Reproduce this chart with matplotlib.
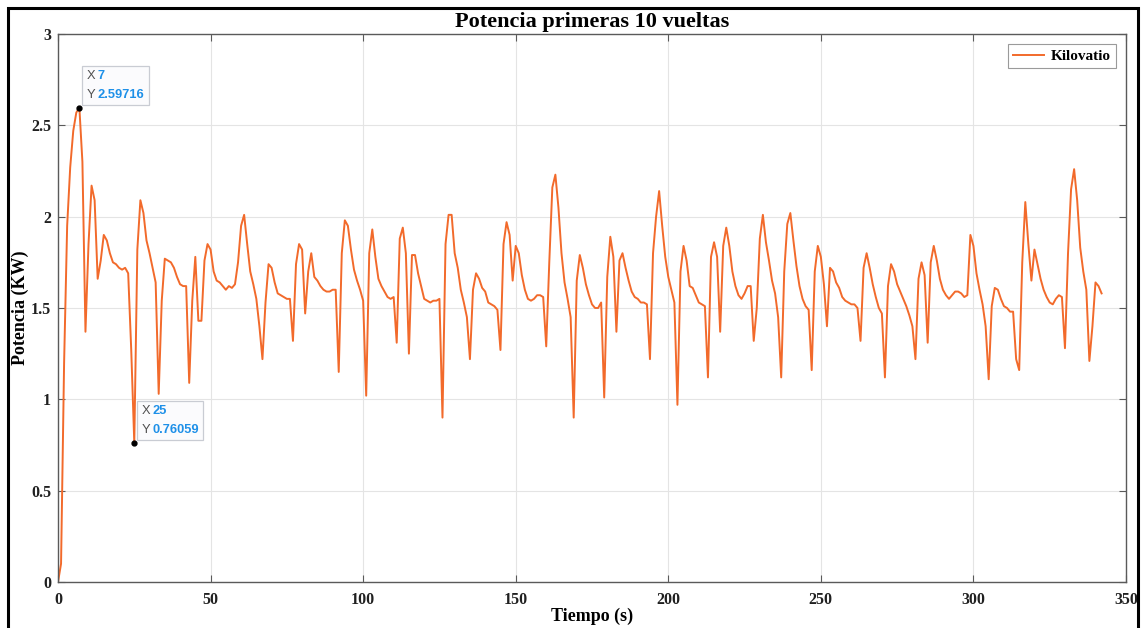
import numpy as np
import matplotlib.pyplot as plt
from matplotlib.patches import Rectangle
from matplotlib.offsetbox import TextArea, HPacker, VPacker, AnnotationBbox
from matplotlib.ticker import FuncFormatter

# potencia (kW) leida cada segundo, t = 0 .. 342 s
potencia = [
    0.00, 0.10, 1.20, 1.95, 2.27, 2.47, 2.57, 2.59716, 2.30, 1.37,   # 0
    1.85, 2.17, 2.09, 1.66, 1.76, 1.90, 1.87, 1.80, 1.75, 1.74,      # 10
    1.72, 1.71, 1.72, 1.69, 1.27, 0.76059, 1.82, 2.09, 2.02, 1.87,   # 20
    1.80, 1.72, 1.64, 1.03, 1.54, 1.77, 1.76, 1.75, 1.72, 1.67,      # 30
    1.63, 1.62, 1.62, 1.09, 1.54, 1.78, 1.43, 1.43, 1.76, 1.85,      # 40
    1.82, 1.70, 1.65, 1.64, 1.62, 1.60, 1.62, 1.61, 1.63, 1.75,      # 50
    1.95, 2.01, 1.85, 1.70, 1.63, 1.55, 1.40, 1.22, 1.53, 1.74,      # 60
    1.72, 1.64, 1.58, 1.57, 1.56, 1.55, 1.55, 1.32, 1.74, 1.85,      # 70
    1.82, 1.47, 1.70, 1.80, 1.67, 1.65, 1.62, 1.60, 1.59, 1.59,      # 80
    1.60, 1.60, 1.15, 1.80, 1.98, 1.95, 1.82, 1.71, 1.65, 1.60,      # 90
    1.54, 1.02, 1.80, 1.93, 1.78, 1.66, 1.62, 1.59, 1.56, 1.55,      # 100
    1.56, 1.31, 1.88, 1.94, 1.80, 1.25, 1.79, 1.79, 1.69, 1.62,      # 110
    1.55, 1.54, 1.53, 1.54, 1.54, 1.55, 0.90, 1.85, 2.01, 2.01,      # 120
    1.80, 1.72, 1.60, 1.53, 1.45, 1.22, 1.60, 1.69, 1.66, 1.61,      # 130
    1.59, 1.53, 1.52, 1.51, 1.49, 1.27, 1.85, 1.97, 1.90, 1.65,      # 140
    1.84, 1.80, 1.68, 1.60, 1.55, 1.54, 1.55, 1.57, 1.57, 1.56,      # 150
    1.29, 1.75, 2.16, 2.23, 2.05, 1.80, 1.64, 1.55, 1.45, 0.90,      # 160
    1.65, 1.79, 1.72, 1.63, 1.57, 1.52, 1.50, 1.50, 1.53, 1.01,      # 170
    1.67, 1.89, 1.78, 1.37, 1.76, 1.80, 1.72, 1.65, 1.59, 1.56,      # 180
    1.55, 1.53, 1.53, 1.52, 1.22, 1.80, 2.00, 2.14, 1.95, 1.78,      # 190
    1.67, 1.60, 1.53, 0.97, 1.70, 1.84, 1.76, 1.62, 1.61, 1.57,      # 200
    1.53, 1.52, 1.51, 1.12, 1.78, 1.86, 1.78, 1.37, 1.84, 1.94,      # 210
    1.84, 1.70, 1.62, 1.57, 1.55, 1.58, 1.62, 1.62, 1.32, 1.50,      # 220
    1.88, 2.01, 1.86, 1.76, 1.65, 1.58, 1.45, 1.12, 1.70, 1.96,      # 230
    2.02, 1.87, 1.73, 1.62, 1.55, 1.51, 1.49, 1.16, 1.70, 1.84,      # 240
    1.78, 1.63, 1.40, 1.72, 1.70, 1.64, 1.61, 1.56, 1.54, 1.53,      # 250
    1.52, 1.52, 1.50, 1.32, 1.72, 1.80, 1.72, 1.63, 1.56, 1.50,      # 260
    1.47, 1.12, 1.62, 1.74, 1.70, 1.63, 1.59, 1.55, 1.51, 1.46,      # 270
    1.40, 1.22, 1.66, 1.75, 1.68, 1.31, 1.75, 1.84, 1.76, 1.66,      # 280
    1.60, 1.57, 1.55, 1.57, 1.59, 1.59, 1.58, 1.56, 1.57, 1.90,      # 290
    1.84, 1.69, 1.60, 1.52, 1.40, 1.11, 1.51, 1.61, 1.60, 1.55,      # 300
    1.51, 1.50, 1.48, 1.48, 1.22, 1.16, 1.75, 2.08, 1.85, 1.65,      # 310
    1.82, 1.74, 1.66, 1.60, 1.56, 1.53, 1.52, 1.55, 1.57, 1.56,      # 320
    1.28, 1.80, 2.15, 2.26, 2.09, 1.83, 1.70, 1.60, 1.21, 1.40,      # 330
    1.64, 1.62, 1.58,                                                # 340
]
tiempo = np.arange(len(potencia))

# puntos marcados (datatips)
tips_x = [7, 25]
tips_y = [2.59716, 0.76059]
tips_txt = ["2.59716", "0.76059"]

x_ticks = [0, 50, 100, 150, 200, 250, 300, 350]
y_ticks = [0, 0.5, 1, 1.5, 2, 2.5, 3]

serif = 'Liberation Serif'
naranja = '#F26A2B'
gris = '#5a5a5a'

fig = plt.figure(figsize=(11.43, 6.28), dpi=100)
ax = fig.add_axes([58/1143, 1 - 582/628, (1126 - 58)/1143, (582 - 34)/628])

ax.plot(tiempo, potencia, color=naranja, lw=1.4, label='Kilovatio')
ax.plot(tips_x, tips_y, 'o', color='black', ms=3.5, zorder=5)

ax.set_xlim(0, 350)
ax.set_ylim(0, 3)
ax.set_xticks(x_ticks)
ax.set_yticks(y_ticks)
ax.yaxis.set_major_formatter(FuncFormatter(lambda v, p: '%g' % v))
ax.grid(True, color='#e4e4e4', lw=0.8)
ax.set_axisbelow(True)
ax.tick_params(direction='in', top=True, right=True, length=5, width=0.8,
               color=gris, labelcolor='#202020', labelsize=11.5, pad=5)
ax.tick_params(axis='x', pad=7)
for lbl in ax.get_xticklabels() + ax.get_yticklabels():
    lbl.set_family(serif)
    lbl.set_fontweight('bold')
for sp in ax.spines.values():
    sp.set_color(gris)
    sp.set_linewidth(1.0)

ax.set_title('Potencia primeras 10 vueltas', family=serif, fontweight='bold',
             fontsize=16, pad=5)
ax.set_xlabel('Tiempo (s)', family=serif, fontweight='bold', fontsize=13, labelpad=0)
ax.set_ylabel('Potencia (KW)', family=serif, fontweight='bold', fontsize=13)
ax.yaxis.set_label_coords(-0.027, 0.5)

leg = ax.legend(loc='upper right', prop=dict(family=serif, weight='bold', size=11),
                fancybox=False, edgecolor='#9a9a9a', framealpha=1,
                handlelength=2.0, handletextpad=0.45, borderpad=0.35,
                borderaxespad=0.65)
leg.get_frame().set_linewidth(0.8)

# cajas de datatip al estilo MATLAB
tip_font = dict(fontsize=9.3, family='Liberation Sans')
for tx, ty, ts in zip(tips_x, tips_y, tips_txt):
    fila_x = HPacker(children=[
        TextArea('X', textprops=dict(color='#505050', **tip_font)),
        TextArea(str(tx), textprops=dict(color='#1e90e8', fontweight='bold', **tip_font))],
        pad=0, sep=2)
    fila_y = HPacker(children=[
        TextArea('Y', textprops=dict(color='#505050', **tip_font)),
        TextArea(ts, textprops=dict(color='#1e90e8', fontweight='bold', **tip_font))],
        pad=0, sep=2)
    caja = VPacker(children=[fila_x, fila_y], pad=0, sep=5, align='left')
    ab = AnnotationBbox(caja, (tx, ty), xybox=(5, 5), boxcoords='offset points',
                        box_alignment=(0, 0), frameon=True, pad=0.45,
                        bboxprops=dict(edgecolor='#c9ccd3', facecolor='#fbfbfd', lw=0.9,
                                       boxstyle='square'))
    ax.add_artist(ab)

# marco negro de la captura
fig.add_artist(Rectangle((8/1143, -0.05), (1138 - 8)/1143, 1 - 8/628 + 0.05,
                         transform=fig.transFigure, fill=False, edgecolor='black',
                         lw=2.2, clip_on=False))

fig.savefig('out.png', dpi=100)
